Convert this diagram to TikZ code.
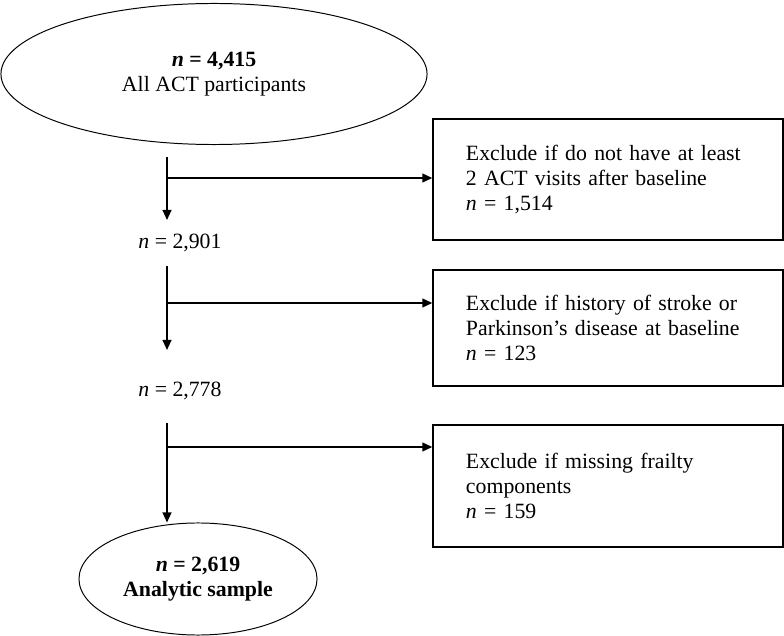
\documentclass[tikz,border=0pt]{standalone}
\usepackage{fontspec}
\setmainfont{Liberation Serif}
\usetikzlibrary{shapes.geometric,arrows.meta,positioning}

\begin{document}
\begin{tikzpicture}[x=0.025cm, y=-0.025cm,
    font=\fontsize{15.5}{17.8}\selectfont,
    oval/.style={draw, ellipse, line width=0.7pt, align=center, inner sep=0pt},
    exbox/.style={draw, rectangle, line width=0.9pt, minimum width=8.75cm,
                  text width=7.1cm, align=left},
    flow/.style={-{Triangle[length=0.25cm,width=0.22cm]}, line width=1.2pt}]

            \useasboundingbox (0,0) rectangle (784,636);

            % Draw the start and end ovals
            \node[oval, minimum width=10.65cm, minimum height=3.525cm] (all) at (214,74)
                {\textbf{\textit{n} = 4,415}\\All ACT participants};
            \node[oval, minimum width=5.95cm, minimum height=2.8cm, font=\fontsize{15.5}{17.8}\selectfont\bfseries] (final) at (198,579)
                {\textit{n} = 2,619\\Analytic sample};

            % Draw the counts between the steps
            \node (n1) at (180,243) {\textit{n} = 2,901};
            \node (n2) at (180,391) {\textit{n} = 2,778};

            % Draw the exclusion boxes
            \node[exbox, minimum height=3.025cm] (ex1) at (608,179.5)
                {Exclude if do not have at least\\2 ACT visits after baseline\\\textit{n} = 1,514};
            \node[exbox, minimum height=2.9cm] (ex2) at (608,328)
                {Exclude if history of stroke or\\Parkinson's disease at baseline\\\textit{n} = 123};
            \node[exbox, minimum height=3.05cm] (ex3) at (608,486)
                {Exclude if missing frailty\\components\\\textit{n} = 159};

            % Points on the main line
            \coordinate (a1) at (167,157);
            \coordinate (b1) at (167,178);
            \coordinate (c1) at (167,220);
            \coordinate (a2) at (167,266);
            \coordinate (b2) at (167,303);
            \coordinate (c2) at (167,350);
            \coordinate (a3) at (167,423);
            \coordinate (b3) at (167,447);

            % Draw the arrows down
            \draw[flow] (a1) -- (c1);
            \draw[flow] (a2) -- (c2);
            \draw[flow] (a3) -- (a3 |- final.north);

            % Draw the arrows to the exclusions
            \draw[flow] (b1) -- (b1 -| ex1.west);
            \draw[flow] (b2) -- (b2 -| ex2.west);
            \draw[flow] (b3) -- (b3 -| ex3.west);

\end{tikzpicture}
\end{document}
